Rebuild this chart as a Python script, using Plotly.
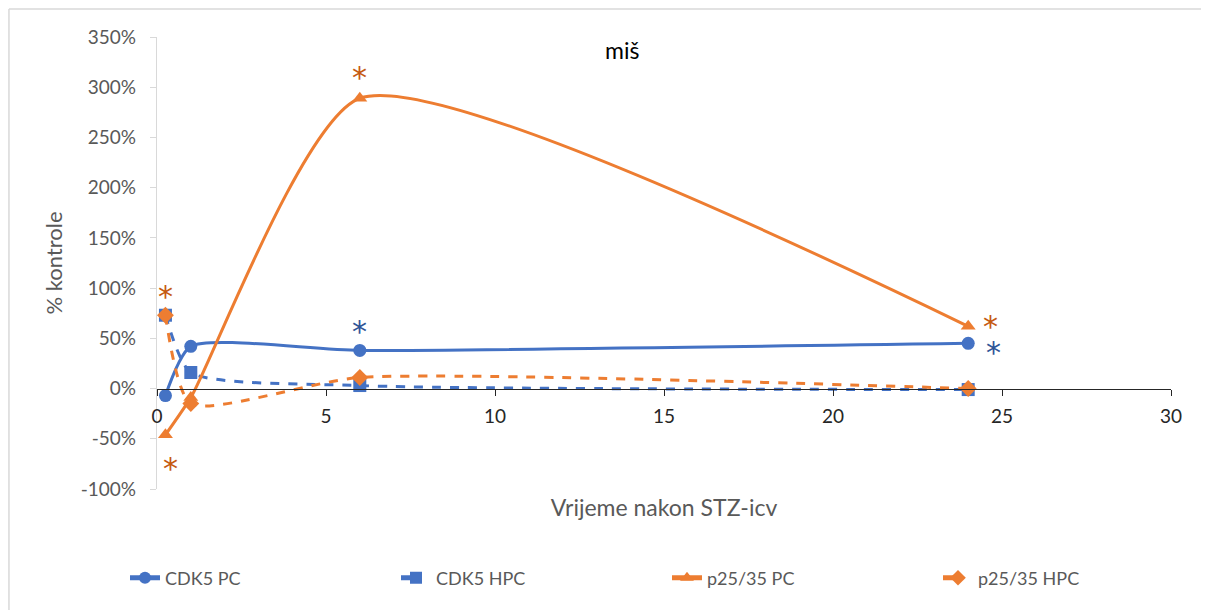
import plotly.graph_objects as go

# hours after STZ-icv
hours = [0.25, 1, 6, 24]

cdk5_pc = [-7, 42, 38, 45]
cdk5_hpc = [73, 16, 3, -1]
p25_pc = [-46, -9, 289, 62]
p25_hpc = [73, -15, 11, 0]

# significance markers (x, y in %, colour)
star_x = [0.25, 0.4, 6, 6, 24.65, 24.75]
star_y = [98, -74, 316, 63, 68, 42]
star_colors = ["#C55A11", "#C55A11", "#C55A11", "#2F5597", "#C55A11", "#2F5597"]

BLUE = "#4472C4"
ORANGE = "#ED7D31"
FONT = "Lato"
GREY = "#595959"

Y_MIN, Y_MAX = -100, 350

fig = go.Figure()

series = [
    ("CDK5 PC", cdk5_pc, BLUE, "solid", "circle"),
    ("CDK5 HPC", cdk5_hpc, BLUE, "dash", "square"),
    ("p25/35 PC", p25_pc, ORANGE, "solid", "triangle-up"),
    ("p25/35 HPC", p25_hpc, ORANGE, "dash", "diamond"),
]

for name, vals, color, dash, symbol in series:
    fig.add_trace(go.Scatter(
        x=hours,
        y=vals,
        name=name,
        mode="lines+markers",
        line=dict(color=color, width=3, dash=dash, shape="spline", smoothing=0.6),
        marker=dict(color=color, size=13, symbol=symbol),
    ))

for sx, sy, sc in zip(star_x, star_y, star_colors):
    fig.add_annotation(
        x=sx, y=sy, text="*", showarrow=False,
        font=dict(family="DejaVu Sans", size=30, color=sc),
        yshift=-6,
    )

# title inside the plot area
fig.add_annotation(
    x=0.459, y=0.971, xref="paper", yref="paper", text="miš", showarrow=False,
    xanchor="center", yanchor="middle",
    font=dict(family=FONT, size=23, color="black"),
)

# light chart border
fig.add_shape(type="line", xref="paper", yref="paper",
              x0=-0.146, x1=1.05, y0=1.062, y1=1.062,
              line=dict(color="#D9D9D9", width=1.5))
fig.add_shape(type="line", xref="paper", yref="paper",
              x0=-0.146, x1=-0.146, y0=1.062, y1=-0.3,
              line=dict(color="#D9D9D9", width=1.5))

fig.update_layout(
    width=1201,
    height=602,
    margin=dict(l=149, r=38, t=29, b=121),
    plot_bgcolor="white",
    paper_bgcolor="white",
    font=dict(family=FONT, color=GREY),
    showlegend=True,
    legend=dict(
        orientation="h",
        x=-0.0154, xanchor="left",
        y=-0.197, yanchor="middle",
        entrywidth=226, entrywidthmode="pixels",
        font=dict(family=FONT, size=18, color=GREY),
        itemsizing="constant",
    ),
    xaxis=dict(
        range=[0, 30],
        dtick=5,
        anchor="free",
        position=(0 - Y_MIN) / (Y_MAX - Y_MIN),
        showline=True, linecolor="#262626", linewidth=1.2,
        ticks="outside", ticklen=6, tickcolor="#262626",
        showgrid=False, zeroline=False,
        ticklabelstandoff=5,
        tickfont=dict(family=FONT, size=19, color="#262626"),
        title=dict(text="Vrijeme nakon STZ-icv", standoff=73,
                   font=dict(family=FONT, size=23, color=GREY)),
    ),
    yaxis=dict(
        range=[Y_MIN, Y_MAX],
        tickvals=[-100, -50, 0, 50, 100, 150, 200, 250, 300, 350],
        ticktext=["-100%", "-50%", "0%", "50%", "100%", "150%", "200%", "250%", "300%", "350%"],
        showline=True, linecolor="#D9D9D9", linewidth=1.2,
        ticks="outside", ticklen=6, tickcolor="#D9D9D9",
        showgrid=False, zeroline=False,
        ticklabelstandoff=10,
        tickfont=dict(family=FONT, size=19, color=GREY),
        title=dict(text="% kontrole", standoff=12,
                   font=dict(family=FONT, size=22, color=GREY)),
    ),
)

fig.write_html("out.html")
